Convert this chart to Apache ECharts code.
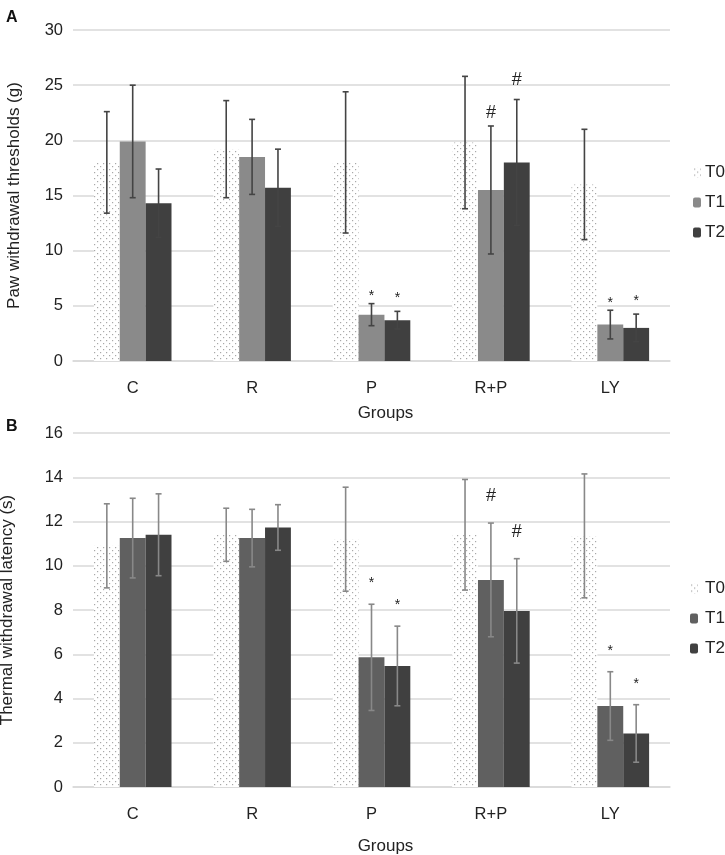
<!DOCTYPE html>
<html>
<head>
<meta charset="utf-8">
<script src="https://cdn.jsdelivr.net/npm/echarts@6/dist/echarts.min.js"></script>
<style>html,body{margin:0;padding:0;background:#fff}#c{width:725px;height:855px}</style>
</head>
<body>
<div id="c"></div>
<script>
// ---------- data ----------
const categories = ['C', 'R', 'P', 'R+P', 'LY'];
const seriesNames = ['T0', 'T1', 'T2'];

// Panel A: Paw withdrawal thresholds (g), mean and SD
const pawT0 = [18.0, 19.2, 18.0, 19.8, 16.0];
const pawT0sd = [4.6, 4.4, 6.4, 6.0, 5.0];
const pawT1 = [19.9, 18.5, 4.2, 15.5, 3.3];
const pawT1sd = [5.1, 3.4, 1.0, 5.8, 1.3];
const pawT2 = [14.3, 15.7, 3.7, 18.0, 3.0];
const pawT2sd = [3.1, 3.5, 0.8, 5.7, 1.25];
const pawSigT1 = ['', '', '*', '#', '*'];
const pawSigT2 = ['', '', '*', '#', '*'];
const pawTicks = [0, 5, 10, 15, 20, 25, 30];

// Panel B: Thermal withdrawal latency (s), mean and SD
const thrT0 = [10.9, 11.4, 11.2, 11.4, 11.35];
const thrT0sd = [1.9, 1.2, 2.35, 2.5, 2.8];
const thrT1 = [11.25, 11.25, 5.86, 9.36, 3.66];
const thrT1sd = [1.8, 1.3, 2.4, 2.57, 1.55];
const thrT2 = [11.4, 11.73, 5.47, 7.96, 2.42];
const thrT2sd = [1.85, 1.03, 1.8, 2.36, 1.3];
const thrSigT1 = ['', '', '*', '#', '*'];
const thrSigT2 = ['', '', '*', '#', '*'];
const thrTicks = [0, 2, 4, 6, 8, 10, 12, 14, 16];

// ---------- styling helpers ----------
function dotPattern() {
  const c = document.createElement('canvas');
  c.width = 6; c.height = 6;
  const ctx = c.getContext('2d');
  ctx.fillStyle = '#ffffff';
  ctx.fillRect(0, 0, 6, 6);
  ctx.fillStyle = '#a8a8a8';
  ctx.fillRect(1, 1, 1.2, 1.2);
  ctx.fillRect(4, 4, 1.2, 1.2);
  return { image: c, repeat: 'repeat' };
}
const T0fill = dotPattern();
const CATGAP = 0.35;

function barSeries(name, data, color, axis) {
  return {
    name: name, type: 'bar', data: data,
    xAxisIndex: axis, yAxisIndex: axis,
    barGap: '0%', barCategoryGap: (CATGAP * 100) + '%',
    itemStyle: { color: color },
    z: 2
  };
}

function errSeries(means, sds, sigs, idx, axis, color, gap) {
  const data = means.map((m, i) => [i, m - sds[i], m + sds[i], sigs ? sigs[i] : '']);
  return {
    type: 'custom', xAxisIndex: axis, yAxisIndex: axis, z: 5,
    silent: true,
    encode: { x: 0, y: [1, 2] },
    data: data,
    renderItem: function (params, api) {
      const cat = api.value(0);
      const lo = api.coord([cat, api.value(1)]);
      const hi = api.coord([cat, api.value(2)]);
      const band = api.size([1, 0])[0];
      const bw = band * (1 - CATGAP) / 3;
      const x = lo[0] + (idx - 1) * bw;
      const cap = 3;
      const st = { stroke: color, lineWidth: 1.6 };
      const children = [
        { type: 'line', shape: { x1: x, y1: lo[1], x2: x, y2: hi[1] }, style: st },
        { type: 'line', shape: { x1: x - cap, y1: hi[1], x2: x + cap, y2: hi[1] }, style: st },
        { type: 'line', shape: { x1: x - cap, y1: lo[1], x2: x + cap, y2: lo[1] }, style: st }
      ];
      const s = api.value(3);
      if (s) {
        const isHash = s === '#';
        children.push({
          type: 'text',
          style: {
            x: x, y: hi[1] - gap + (isHash ? 0 : 4),
            text: s, align: 'center', verticalAlign: 'bottom',
            fontFamily: 'Liberation Sans, Arial, sans-serif',
            fontSize: isHash ? 18 : 14, fill: '#222'
          }
        });
      }
      return { type: 'group', children: children };
    }
  };
}

const font = 'Liberation Sans, Arial, sans-serif';
const gridLine = { show: true, lineStyle: { color: '#d9d9d9', width: 1.5 } };

function xAx(gridIndex, nameGap) {
  return {
    type: 'category', gridIndex: gridIndex, data: categories,
    axisTick: { show: false },
    axisLine: { show: true, lineStyle: { color: '#d9d9d9', width: 1.5 } },
    axisLabel: { color: '#222', fontSize: 16.5, fontFamily: font, margin: 19 },
    name: 'Groups', nameLocation: 'middle', nameGap: nameGap,
    nameTextStyle: { color: '#222', fontSize: 17, fontFamily: font, padding: [0, 0, 0, 28] }
  };
}
function yAx(gridIndex, ticks, name, nameGap, nameSize) {
  return {
    type: 'value', gridIndex: gridIndex,
    min: ticks[0], max: ticks[ticks.length - 1], interval: ticks[1] - ticks[0],
    axisLine: { show: false }, axisTick: { show: false },
    splitLine: gridLine,
    axisLabel: { color: '#222', fontSize: 16.5, fontFamily: font, margin: 10 },
    name: name, nameLocation: 'middle', nameGap: nameGap, nameRotate: 90,
    nameTextStyle: { color: '#222', fontSize: nameSize, fontFamily: font }
  };
}

const chart = echarts.init(document.getElementById('c'), null, { renderer: 'canvas' });
chart.setOption({
  backgroundColor: '#ffffff',
  animation: false,
  title: [
    { text: 'A', left: 1, top: 5, textStyle: { fontSize: 16, fontWeight: 'bold', fontFamily: font, color: '#111' } },
    { text: 'B', left: 1, top: 414, textStyle: { fontSize: 16, fontWeight: 'bold', fontFamily: font, color: '#111' } }
  ],
  grid: [
    { left: 73, right: 55, top: 30, bottom: 494, outerBoundsMode: 'none', containLabel: false },
    { left: 73, right: 55, top: 433, bottom: 68, outerBoundsMode: 'none', containLabel: false }
  ],
  legend: [
    {
      orient: 'vertical', left: 688, top: 159, itemGap: 13, itemWidth: 8, itemHeight: 10,
      textStyle: { fontSize: 17, fontFamily: font, color: '#222', padding: [0, 0, 0, -1] }, selectedMode: false,
      data: [
        { name: 'T0', itemStyle: { color: T0fill } },
        { name: 'T1', itemStyle: { color: '#8a8a8a' } },
        { name: 'T2', itemStyle: { color: '#404040' } }
      ]
    },
    {
      orient: 'vertical', left: 685, top: 575, itemGap: 13, itemWidth: 8, itemHeight: 10,
      textStyle: { fontSize: 17, fontFamily: font, color: '#222', padding: [0, 0, 0, 2] }, selectedMode: false,
      data: [
        { name: 'T0', itemStyle: { color: T0fill } },
        { name: 'T1', itemStyle: { color: '#606060' } },
        { name: 'T2', itemStyle: { color: '#404040' } }
      ]
    }
  ],
  xAxis: [xAx(0, 44), xAx(1, 51)],
  yAxis: [
    yAx(0, pawTicks, 'Paw withdrawal thresholds (g)', 50, 17),
    yAx(1, thrTicks, 'Thermal withdrawal latency (s)', 57, 17)
  ],
  series: [
    barSeries('T0', pawT0, T0fill, 0),
    barSeries('T1', pawT1, '#8a8a8a', 0),
    barSeries('T2', pawT2, '#404040', 0),
    errSeries(pawT0, pawT0sd, null, 0, 0, '#444', 2),
    errSeries(pawT1, pawT1sd, pawSigT1, 1, 0, '#444', 4),
    errSeries(pawT2, pawT2sd, pawSigT2, 2, 0, '#444', 10),
    barSeries('T0', thrT0, T0fill, 1),
    barSeries('T1', thrT1, '#606060', 1),
    barSeries('T2', thrT2, '#404040', 1),
    errSeries(thrT0, thrT0sd, null, 0, 1, '#888', 26),
    errSeries(thrT1, thrT1sd, thrSigT1, 1, 1, '#888', 18),
    errSeries(thrT2, thrT2sd, thrSigT2, 2, 1, '#888', 18)
  ]
});
</script>
</body>
</html>
